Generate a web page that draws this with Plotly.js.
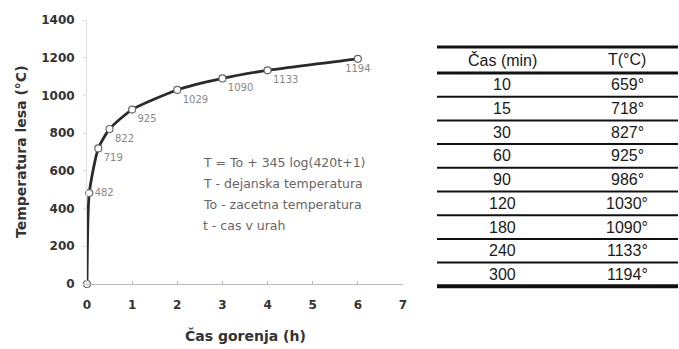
<!DOCTYPE html>
<html><head><meta charset="utf-8">
<script src="https://cdn.plot.ly/plotly-3.0.1.min.js"></script>
<style>html,body{margin:0;padding:0;background:#fff}</style>
</head><body><div id="chart" style="width:679px;height:349px"></div>
<script>
// Chart data
var timeH = [0, 0.05, 0.25, 0.5, 1, 2, 3, 4, 6];
var tempC = [0, 482, 719, 822, 925, 1029, 1090, 1133, 1194];
var pointLabels = ['', '482', '719', '822', '925', '1029', '1090', '1133', '1194'];
var labelPos = ['middle right', 'middle right', 'bottom right', 'bottom right', 'bottom right', 'bottom right', 'bottom right', 'bottom right', 'bottom center'];
var xTicks = [0, 1, 2, 3, 4, 5, 6, 7];
var yTicks = [0, 200, 400, 600, 800, 1000, 1200, 1400];
var formulaLines = ['T = To + 345 log(420t+1)', 'T - dejanska temperatura', 'To - zacetna temperatura', 't - cas v urah'];
// Table data
var tableHeader = ['Čas (min)', 'T(°C)'];
var tableMin = ['10', '15', '30', '60', '90', '120', '180', '240', '300'];
var tableTemp = ['659°', '718°', '827°', '925°', '986°', '1030°', '1090°', '1133°', '1194°'];

var W = 679, H = 349;
function px(x){return x/W;}
function py(y){return 1 - y/H;}

var dejavu = 'DejaVu Sans, Verdana, sans-serif';
var sans = 'Arial, Liberation Sans, sans-serif';

var trace = {
  x: timeH, y: tempC, mode: 'lines+markers+text', type: 'scatter',
  line: {color: '#2a2a2a', width: 2.8, shape: 'spline', smoothing: 0.6},
  marker: {size: 7, color: '#fff', line: {color: '#666', width: 1.2}},
  text: pointLabels, textposition: labelPos,
  textfont: {family: dejavu, size: 10, color: '#888'},
  cliponaxis: false, hoverinfo: 'skip'
};

var annotations = [];
var shapes = [];
function ann(x, y, text, font, extra){
  var a = {xref:'paper', yref:'paper', x: x, y: y, text: text, showarrow: false, xanchor: 'center', yanchor: 'middle', font: font};
  for (var k in (extra||{})) a[k] = extra[k];
  annotations.push(a);
}
// axis titles
ann(px(21), py(152), 'Temperatura lesa (°C)', {family: dejavu, size: 14, color: '#333', weight: 'bold'}, {textangle: -90});
ann(px(245), py(335), 'Čas gorenja (h)', {family: dejavu, size: 14, color: '#333', weight: 'bold'});
// formula
formulaLines.forEach(function(s, i){
  ann(px(201), py(163 + i*20.8), s, {family: dejavu, size: 12.5, color: '#666'}, {xanchor: 'left'});
});
// table
var tx0 = px(437), tx1 = px(678);
var c1 = px(502), c2 = px(627);
var topY = 47, headBot = 73, rowH = 23.7;
var tfont = {family: sans, size: 16, color: '#1a1a1a'};
ann(c1, py((topY+headBot)/2), tableHeader[0], tfont);
ann(c2, py((topY+headBot)/2), tableHeader[1], tfont);
shapes.push({type:'line', xref:'paper', yref:'paper', x0:tx0, x1:tx1, y0:py(topY), y1:py(topY), line:{color:'#111', width:3}});
shapes.push({type:'line', xref:'paper', yref:'paper', x0:tx0, x1:tx1, y0:py(headBot), y1:py(headBot), line:{color:'#111', width:3}});
tableMin.forEach(function(m, i){
  var yc = headBot + rowH*(i+0.5);
  ann(c1, py(yc), m, tfont);
  ann(c2, py(yc), tableTemp[i], tfont);
  var yb = headBot + rowH*(i+1);
  var last = i === tableMin.length - 1;
  shapes.push({type:'line', xref:'paper', yref:'paper', x0:tx0, x1:tx1, y0:py(yb), y1:py(yb), line:{color:'#111', width: last ? 4 : 2}});
});

var layout = {
  width: W, height: H, margin: {l:0, r:0, t:0, b:0}, showlegend: false,
  paper_bgcolor: '#fff', plot_bgcolor: '#fff',
  xaxis: {domain: [px(87), px(403)], range: [0, 7], tickvals: xTicks, showgrid: false, zeroline: false,
    showline: true, linecolor: '#bbb', linewidth: 1, ticks: 'inside', ticklen: 3, tickcolor: '#bbb',
    ticklabelstandoff: 10,
    tickfont: {family: dejavu, size: 12, color: '#333', weight: 'bold'}, fixedrange: true},
  yaxis: {domain: [py(284), py(20)], range: [0, 1400], tickvals: yTicks, showgrid: false, zeroline: false,
    showline: true, linecolor: '#ddd', linewidth: 1, ticks: 'outside', ticklen: 3, tickcolor: '#ddd',
    ticklabelstandoff: 6,
    tickfont: {family: dejavu, size: 12, color: '#333', weight: 'bold'}, fixedrange: true},
  annotations: annotations, shapes: shapes
};
Plotly.newPlot('chart', [trace], layout, {displayModeBar: false, staticPlot: true});
</script></body></html>
